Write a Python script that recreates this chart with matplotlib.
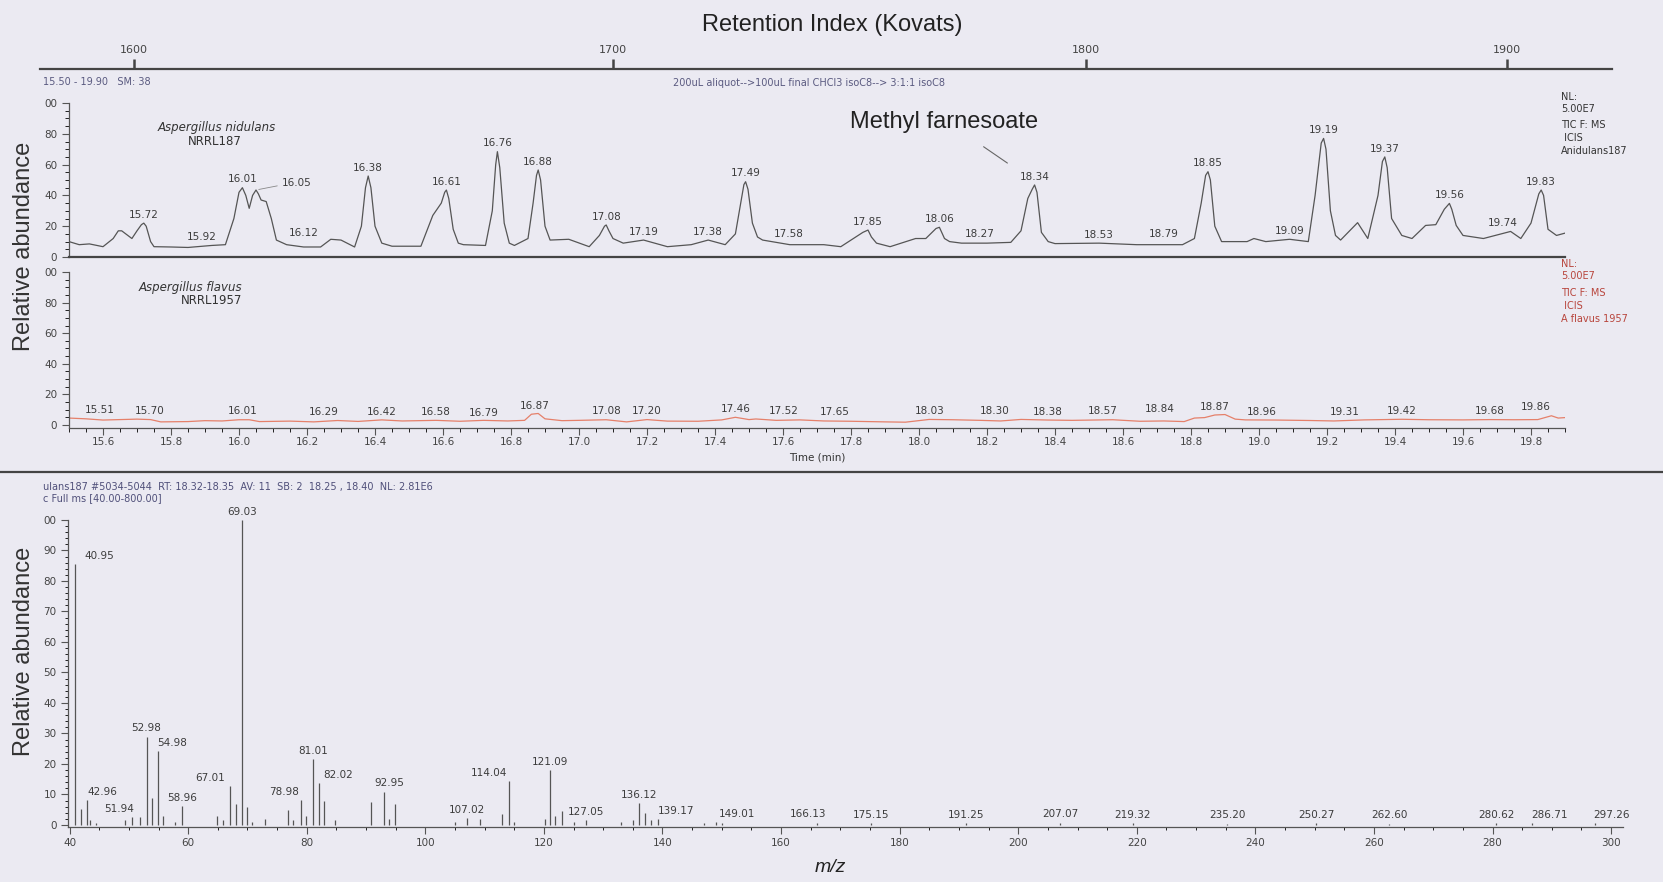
import numpy as np
import matplotlib
matplotlib.use('Agg')
import matplotlib.pyplot as plt
from matplotlib.ticker import MultipleLocator

W, H = 1663, 882
BG = '#ebeaf2'
SMALL = 'DejaVu Sans'

# Kovats retention index scale, ticks sit at their retention time (min)
kovats_index = [1600, 1700, 1800, 1900]
kovats_time = [15.69, 17.10, 18.49, 19.73]

# TIC, Aspergillus nidulans NRRL187
nid_time = [15.50, 15.53, 15.56, 15.60, 15.63, 15.645, 15.655, 15.685, 15.70, 15.713,
            15.72, 15.727, 15.74, 15.75, 15.80, 15.85, 15.92, 15.96, 15.985, 16.00,
            16.01, 16.02, 16.03, 16.04, 16.05, 16.057, 16.065, 16.08, 16.095, 16.11,
            16.14, 16.19, 16.24, 16.27, 16.30, 16.34, 16.36, 16.372, 16.38, 16.388,
            16.40, 16.42, 16.45, 16.535, 16.57, 16.595, 16.605, 16.61, 16.617, 16.63,
            16.645, 16.66, 16.725, 16.745, 16.755, 16.76, 16.767, 16.78, 16.795, 16.81,
            16.85, 16.865, 16.875, 16.88, 16.887, 16.90, 16.915, 16.97, 17.03, 17.06,
            17.075, 17.08, 17.088, 17.10, 17.13, 17.19, 17.26, 17.33, 17.38, 17.43,
            17.46, 17.478, 17.485, 17.49, 17.497, 17.51, 17.525, 17.54, 17.62, 17.72,
            17.77, 17.835, 17.85, 17.86, 17.875, 17.915, 17.99, 18.02, 18.05, 18.06,
            18.075, 18.09, 18.125, 18.20, 18.27, 18.30, 18.32, 18.333, 18.34, 18.347,
            18.36, 18.38, 18.40, 18.53, 18.64, 18.775, 18.81, 18.83, 18.843, 18.85,
            18.857, 18.87, 18.89, 18.965, 18.985, 19.02, 19.09, 19.145, 19.165, 19.183,
            19.19, 19.197, 19.21, 19.225, 19.24, 19.29, 19.32, 19.35, 19.363, 19.37,
            19.377, 19.39, 19.42, 19.45, 19.49, 19.52, 19.545, 19.56, 19.567, 19.58,
            19.60, 19.66, 19.74, 19.77, 19.80, 19.823, 19.83, 19.837, 19.85, 19.875,
            19.90]
nid_abund = [10, 8, 8.5, 6.7, 12, 17, 17, 12, 17, 21,
             22, 20, 10, 6.7, 6.5, 6.2, 7.5, 8, 25, 42,
             45, 40, 31.6, 40, 43.5, 41, 37, 36, 25, 11,
             8, 6.5, 6.5, 11.5, 11, 6.5, 20, 45, 52.6, 45,
             20, 9, 7, 7, 27, 35, 42, 43.5, 38, 18,
             9, 8, 7.5, 30, 60, 68.4, 58, 22, 9, 7.5,
             12, 35, 53, 56.5, 50, 20, 11, 11.5, 6.7, 14,
             20, 20.8, 17, 12, 9, 11, 6.7, 8, 11, 8,
             15, 38, 47, 48.9, 44, 22, 13, 11, 8, 8,
             6.7, 16, 17.5, 13, 9, 6.7, 12, 12, 18.5, 19.3,
             12, 10, 9, 9, 9.5, 17, 38, 44, 46.8, 42,
             16, 10, 8.7, 9, 8, 8, 12, 35, 53, 55.4,
             50, 20, 10, 10, 12, 10, 11.5, 10, 40, 74,
             77, 70, 30, 14, 11, 22.3, 12, 40, 62, 65,
             58, 25, 14, 12, 20.5, 21, 31, 34.8, 31, 20.5,
             14, 12, 16.6, 12, 22, 41, 43.5, 40, 18, 14,
             15.5]
nid_labels = ['15.72', '15.92', '16.01', '16.05', '16.12', '16.38', '16.61', '16.76',
              '16.88', '17.08', '17.19', '17.38', '17.49', '17.58', '17.85', '18.06',
              '18.27', '18.34', '18.53', '18.79', '18.85', '19.09', '19.19', '19.37',
              '19.56', '19.74', '19.83']

# TIC, Aspergillus flavus NRRL1957
fla_time = [15.50, 15.55, 15.60, 15.65, 15.70, 15.74, 15.77, 15.85, 15.90, 15.95,
            16.00, 16.03, 16.06, 16.15, 16.22, 16.29, 16.35, 16.42, 16.48, 16.58,
            16.65, 16.72, 16.79, 16.84, 16.86, 16.88, 16.90, 16.95, 17.00, 17.08,
            17.14, 17.20, 17.26, 17.35, 17.42, 17.46, 17.50, 17.52, 17.58, 17.65,
            17.72, 17.80, 17.90, 17.96, 18.03, 18.10, 18.18, 18.24, 18.30, 18.38,
            18.45, 18.57, 18.65, 18.72, 18.78, 18.81, 18.84, 18.87, 18.90, 18.93,
            18.96, 19.05, 19.15, 19.22, 19.31, 19.42, 19.50, 19.60, 19.68, 19.75,
            19.82, 19.86, 19.88, 19.90]
fla_abund = [4.5, 4.0, 3.2, 3.5, 3.8, 3.5, 2.0, 2.2, 2.8, 2.6,
             3.4, 3.4, 2.2, 2.5, 2.0, 2.9, 2.3, 3.3, 2.6, 3.0,
             2.4, 3.0, 2.6, 3.0, 7.0, 7.5, 4.0, 2.8, 3.0, 3.4,
             2.0, 3.5, 2.5, 2.4, 3.3, 5.0, 3.5, 3.9, 3.0, 3.3,
             2.6, 2.4, 2.0, 1.8, 3.6, 3.4, 3.0, 2.6, 3.6, 3.2,
             3.0, 3.4, 2.4, 2.6, 2.2, 4.5, 4.8, 6.5, 6.8, 3.8,
             3.3, 3.2, 2.9, 2.6, 3.3, 3.7, 3.4, 3.3, 3.5, 3.4,
             3.5, 6.0, 4.5, 4.8]
fla_labels = ['15.51', '15.70', '16.01', '16.29', '16.42', '16.58', '16.79', '16.87',
              '17.08', '17.20', '17.46', '17.52', '17.65', '18.03', '18.30', '18.38',
              '18.57', '18.84', '18.87', '18.96', '19.31', '19.42', '19.68', '19.86']

# mass spectrum, RT 18.32-18.35
ms_mz = [40.95, 41.9, 42.96, 43.4, 44.5, 49.3, 50.5, 51.94, 52.98, 53.9,
         54.98, 55.7, 57.8, 58.96, 64.9, 65.9, 67.01, 68.1, 69.03, 69.9,
         70.8, 73.0, 76.9, 77.7, 78.98, 79.9, 81.01, 82.02, 82.9, 84.8,
         90.9, 92.95, 93.9, 94.9, 105.0, 107.02, 109.3, 113.0, 114.04, 115.0,
         120.1, 121.09, 121.9, 123.0, 125.0, 127.05, 133.0, 135.0, 136.12, 137.0,
         138.0, 139.17, 147.0, 149.01, 150.0, 166.13, 175.15, 191.25, 207.07, 219.32,
         235.20, 250.27, 262.60, 280.62, 286.71, 297.26]
ms_abund = [85.6, 5.2, 8.2, 1.5, 0.6, 1.5, 2.5, 2.5, 29, 9,
            24.3, 3, 1, 6.2, 3, 1.5, 12.8, 7, 100, 6,
            1, 2, 4.8, 1.5, 8.2, 2.8, 21.5, 13.7, 8, 1.5,
            7.6, 10.9, 2, 7, 1, 2.3, 2, 3.5, 14.4, 1,
            2, 18, 3, 4.7, 1, 1.5, 1, 1.5, 7.1, 4,
            1.5, 2, 0.8, 1, 0.5, 0.8, 0.6, 0.6, 0.8, 0.6,
            0.4, 0.5, 0.4, 0.5, 0.5, 0.6]
ms_labels = ['40.95', '42.96', '51.94', '52.98', '54.98', '58.96', '67.01', '69.03',
             '78.98', '81.01', '82.02', '92.95', '107.02', '114.04', '121.09', '127.05',
             '136.12', '139.17', '149.01', '166.13', '175.15', '191.25', '207.07',
             '219.32', '235.20', '250.27', '262.60', '280.62', '286.71', '297.26']

# label nudges (points) where the instrument software moved a label sideways
nid_nudge = {'15.92': -7, '16.12': 17, '17.58': 9, '18.27': -22, '18.79': -17, '19.74': -6}
fla_nudge = {'15.51': 20, '15.70': 9, '16.29': -10, '16.79': -17, '17.52': 20, '17.65': 25,
             '18.30': -19, '18.57': -7, '18.84': -32, '18.96': 12, '19.31': -14, '19.86': -11}
ms_nudge = {'40.95': 17, '42.96': 11, '51.94': -15, '54.98': 10, '67.01': -14, '78.98': -12,
            '82.02': 14, '92.95': 4, '114.04': -14, '139.17': 13, '149.01': 15, '166.13': -7,
            '286.71': 12, '297.26': 12}


def rect(l, t, r, b):
    return [l / W, 1 - b / H, (r - l) / W, (b - t) / H]


def fx(x):
    return x / W


def fy(y):
    return 1 - y / H


def label_peaks(ax, xs, ys, labels, nudge, color):
    for lab in labels:
        x = float(lab)
        y = np.interp(x, xs, ys)
        ax.annotate(lab, (x, y), xytext=(nudge.get(lab, 0), 6), textcoords='offset points',
                    ha='center', va='center', fontsize=7.5, color=color, family=SMALL,
                    annotation_clip=False)


def style_axes(ax):
    ax.set_facecolor('none')
    for s in ['top', 'right']:
        ax.spines[s].set_visible(False)
    ax.spines['left'].set_color('#555555')
    ax.spines['left'].set_linewidth(0.9)
    ax.spines['bottom'].set_color('#444444')
    ax.tick_params(colors='#555555', labelcolor='#444444', labelsize=7.5)
    for t in ax.get_yticklabels() + ax.get_xticklabels():
        t.set_family(SMALL)


plt.rcParams['font.family'] = ['Liberation Sans', 'DejaVu Sans']
fig = plt.figure(figsize=(W / 100, H / 100), dpi=100, facecolor=BG)

# --- retention index scale on top
kax = fig.add_axes(rect(40, 69, 1612, 70))
kax.patch.set_visible(False)
for s in ['bottom', 'left', 'right']:
    kax.spines[s].set_visible(False)
kax.spines['top'].set_linewidth(1.6)
kax.spines['top'].set_color('#444444')
kax.set_xlim(15.415, 20.038)
kax.set_yticks([])
kax.xaxis.tick_top()
kax.set_xticks(kovats_time, [str(k) for k in kovats_index])
kax.tick_params(axis='x', direction='out', length=7, width=1.8, pad=3, labelsize=8,
                colors='#444444')
for t in kax.get_xticklabels():
    t.set_family(SMALL)
fig.text(fx(832), fy(25), 'Retention Index (Kovats)', ha='center', va='center',
         fontsize=17, color='#222222')

fig.text(fx(43), fy(82), '15.50 - 19.90   SM: 38', ha='left', va='center', fontsize=7,
         family=SMALL, color='#5a5a80')
fig.text(fx(809), fy(83), '200uL aliquot-->100uL final CHCl3 isoC8--> 3:1:1 isoC8',
         ha='center', va='center', fontsize=7, family=SMALL, color='#5a5a80')

# --- panel 1: A. nidulans
ax1 = fig.add_axes(rect(69, 103, 1565, 257))
ax1.plot(nid_time, nid_abund, color='#555555', lw=0.9)
ax1.set_xlim(15.5, 19.9)
ax1.set_ylim(0, 100)
ax1.set_xticks([])
ax1.set_yticks([0, 20, 40, 60, 80, 100], ['0', '20', '40', '60', '80', '00'])
ax1.yaxis.set_minor_locator(MultipleLocator(5))
style_axes(ax1)
ax1.spines['bottom'].set_linewidth(1.6)
ax1.tick_params(axis='y', which='major', length=5, width=0.8)
ax1.tick_params(axis='y', which='minor', length=3, width=0.6)
label_peaks(ax1, nid_time, nid_abund, [l for l in nid_labels if l != '16.05'], nid_nudge,
            '#3c3c3c')
ax1.annotate('16.05', (16.05, 43.5), xytext=(29, 5), textcoords='offset points',
             ha='center', va='center', fontsize=7.5, color='#3c3c3c', family=SMALL,
             arrowprops=dict(arrowstyle='-', color='#888888', lw=0.6, shrinkA=1, shrinkB=2,
                             relpos=(0, 0.3)))
ax1.text(18.075, 87.7, 'Methyl farnesoate', ha='center', va='center', fontsize=17,
         color='#222222')
ax1.annotate('', xy=(18.26, 61), xytext=(18.19, 71.6),
             arrowprops=dict(arrowstyle='-', color='#666666', lw=0.8, shrinkA=0, shrinkB=0))

fig.text(fx(217), fy(128), 'Aspergillus nidulans', ha='center', va='center', fontsize=8.5,
         style='italic', family=SMALL, color='#333333')
fig.text(fx(215), fy(141), 'NRRL187', ha='center', va='center', fontsize=8.5,
         family=SMALL, color='#333333')

for txt, y in zip(['NL:', '5.00E7', 'TIC F: MS', ' ICIS', 'Anidulans187'],
                  [97, 109, 125, 138, 151]):
    fig.text(fx(1561), fy(y), txt, ha='left', va='center', fontsize=7, family=SMALL,
             color='#333333')

# --- panel 2: A. flavus
ax2 = fig.add_axes(rect(69, 272, 1565, 428))
ax2.plot(fla_time, fla_abund, color='#e5806a', lw=0.9)
ax2.set_xlim(15.5, 19.9)
ax2.set_ylim(-2, 100)
ax2.set_yticks([0, 20, 40, 60, 80, 100], ['0', '20', '40', '60', '80', '00'])
ax2.yaxis.set_minor_locator(MultipleLocator(5))
ax2.set_xticks(np.arange(15.6, 19.81, 0.2), ['%.1f' % v for v in np.arange(15.6, 19.81, 0.2)])
ax2.xaxis.set_minor_locator(MultipleLocator(0.05))
style_axes(ax2)
ax2.spines['bottom'].set_linewidth(0.9)
ax2.spines['bottom'].set_color('#555555')
ax2.tick_params(which='major', length=5, width=0.8)
ax2.tick_params(which='minor', length=3, width=0.6)
ax2.tick_params(axis='x', pad=1.5)
label_peaks(ax2, fla_time, fla_abund, fla_labels, fla_nudge, '#3c3c3c')
fig.text(fx(817), fy(457), 'Time (min)', ha='center', va='center', fontsize=7.5,
         family=SMALL, color='#333333')

fig.text(fx(139), fy(287), 'Aspergillus flavus', ha='left', va='center', fontsize=8.5,
         style='italic', family=SMALL, color='#333333')
fig.text(fx(212), fy(301), 'NRRL1957', ha='center', va='center', fontsize=8.5,
         family=SMALL, color='#333333')
for txt, y in zip(['NL:', '5.00E7', 'TIC F: MS', ' ICIS', 'A flavus 1957'],
                  [264, 276, 293, 306, 319]):
    fig.text(fx(1561), fy(y), txt, ha='left', va='center', fontsize=7, family=SMALL,
             color='#b8453c')

fig.text(fx(24), fy(246), 'Relative abundance', rotation=90, ha='center', va='center',
         fontsize=17, color='#333333')

# separator between chromatograms and spectrum
fig.add_artist(plt.Line2D([0, 1], [fy(472), fy(472)], transform=fig.transFigure,
                          color='#444444', lw=1.6))

# --- panel 3: mass spectrum
fig.text(fx(43), fy(487),
         'ulans187 #5034-5044  RT: 18.32-18.35  AV: 11  SB: 2  18.25 , 18.40  NL: 2.81E6',
         ha='left', va='center', fontsize=7, family=SMALL, color='#50507a')
fig.text(fx(43), fy(498), 'c Full ms [40.00-800.00]', ha='left', va='center', fontsize=7,
         family=SMALL, color='#50507a')

ax3 = fig.add_axes(rect(68.4, 520, 1623, 826.5))
ax3.vlines(ms_mz, 0, ms_abund, color='#555555', lw=0.9)
ax3.set_xlim(39.8, 302)
ax3.set_ylim(-0.5, 100)
ax3.set_xticks(range(40, 301, 20))
ax3.xaxis.set_minor_locator(MultipleLocator(5))
ax3.set_yticks(range(0, 101, 10), ['0', '10', '20', '30', '40', '50', '60', '70', '80',
                                   '90', '00'])
ax3.yaxis.set_minor_locator(MultipleLocator(2))
style_axes(ax3)
ax3.spines['bottom'].set_linewidth(0.9)
ax3.spines['bottom'].set_color('#555555')
ax3.tick_params(which='major', length=5, width=0.8)
ax3.tick_params(which='minor', length=2.5, width=0.6)
ax3.tick_params(axis='x', pad=3.5)
label_peaks(ax3, ms_mz, ms_abund, ms_labels, ms_nudge, '#3c3c3c')
fig.text(fx(830), fy(868), 'm/z', ha='center', va='center', fontsize=14, style='italic',
         color='#222222')
fig.text(fx(24), fy(651), 'Relative abundance', rotation=90, ha='center', va='center',
         fontsize=17, color='#333333')

fig.savefig('out.png', dpi=100, facecolor=BG)
